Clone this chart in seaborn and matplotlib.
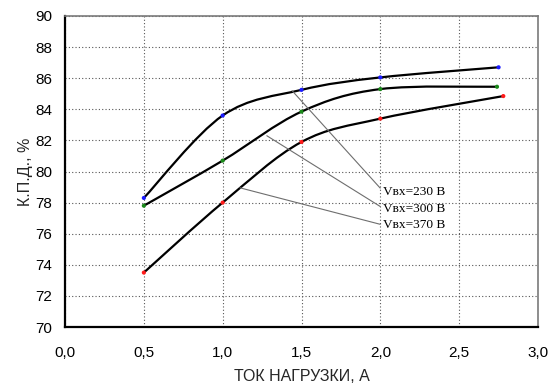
import numpy as np
import pandas as pd
import matplotlib
matplotlib.use("Agg")
import matplotlib.pyplot as plt
from matplotlib.path import Path
from matplotlib.patches import PathPatch
import seaborn as sns

# Efficiency vs load current for three input voltages
current_230 = [0.5, 1.0, 1.5, 2.0, 2.75]
eff_230 = [78.3, 83.6, 85.25, 86.05, 86.7]
current_300 = [0.5, 1.0, 1.5, 2.0, 2.74]
eff_300 = [77.8, 80.7, 83.85, 85.3, 85.45]
current_370 = [0.5, 1.0, 1.5, 2.0, 2.78]
eff_370 = [73.5, 78.0, 81.9, 83.4, 84.85]

series_labels = ["Vвх=230 В", "Vвх=300 В", "Vвх=370 В"]
marker_colors = ["#1a1aff", "#1a8a1a", "#ff1a1a"]

x_ticks = [0.0, 0.5, 1.0, 1.5, 2.0, 2.5, 3.0]
y_ticks = [70, 72, 74, 76, 78, 80, 82, 84, 86, 88, 90]

sns.set_style("white")
plt.rcParams["font.family"] = ["Liberation Sans", "DejaVu Sans"]

fig = plt.figure(figsize=(5.52, 3.90), dpi=100)
ax = fig.add_axes([0.1178, 0.1615, 0.8568, 0.7975])


def smooth_path(xs, ys):
    """Cubic Bezier path through the points (Excel-style smoothed line)."""
    pts = np.column_stack([xs, ys]).astype(float)
    n = len(pts)
    verts = [pts[0]]
    codes = [Path.MOVETO]
    for i in range(n - 1):
        p_prev = pts[i - 1] if i > 0 else pts[i]
        p0 = pts[i]
        p1 = pts[i + 1]
        p_next = pts[i + 2] if i + 2 < n else pts[i + 1]
        c1 = p0 + (p1 - p_prev) / 6.0
        c2 = p1 - (p_next - p0) / 6.0
        verts += [c1, c2, p1]
        codes += [Path.CURVE4] * 3
    return Path(verts, codes)


series = [(current_230, eff_230), (current_300, eff_300), (current_370, eff_370)]
frames = []
for (xs, ys), lab in zip(series, series_labels):
    ax.add_patch(PathPatch(smooth_path(xs, ys), fill=False, edgecolor="black",
                           linewidth=1.6, transform=ax.transData, zorder=3,
                           capstyle="round", joinstyle="round"))
    frames.append(pd.DataFrame({"current": xs, "eff": ys, "series": lab}))
data = pd.concat(frames, ignore_index=True)

sns.scatterplot(data=data, x="current", y="eff", hue="series",
                palette=dict(zip(series_labels, marker_colors)),
                s=9, linewidth=0, ax=ax, legend=False, zorder=4)

# Leader lines from curves to labels
label_pos = [(2.02, 78.7), (2.02, 77.62), (2.02, 76.55)]
anchor_pts = [(1.44, 85.2), (1.28, 82.3), (1.11, 78.95)]
for lab, (tx, ty), (ax_x, ax_y) in zip(series_labels, label_pos, anchor_pts):
    ax.annotate(lab, xy=(ax_x, ax_y), xytext=(tx, ty), textcoords="data",
                ha="left", va="center", fontsize=9.6,
                family=["Liberation Serif", "DejaVu Serif"], color="black",
                arrowprops=dict(arrowstyle="-", color="#6e6e6e", lw=0.8,
                                shrinkA=0, shrinkB=0, relpos=(0, 0.5)),
                zorder=5)

ax.set_xlim(0, 3.0)
ax.set_ylim(70, 90)
ax.set_xticks(x_ticks)
ax.set_yticks(y_ticks)
ax.set_xticklabels([f"{v:.1f}".replace(".", ",") for v in x_ticks])
ax.set_yticklabels([str(v) for v in y_ticks])
ax.tick_params(axis="both", length=0, labelsize=11, colors="black")
ax.tick_params(axis="x", pad=14)
ax.tick_params(axis="y", pad=9)

ax.grid(True, linestyle=(0, (1, 2)), color="#555555", linewidth=0.8)
ax.set_axisbelow(True)

for side in ["left", "bottom"]:
    ax.spines[side].set_color("black")
    ax.spines[side].set_linewidth(1.6)
for side in ["top", "right"]:
    ax.spines[side].set_visible(True)
    ax.spines[side].set_color("#7a7a7a")
    ax.spines[side].set_linewidth(1.2)

ax.set_xlabel("ТОК НАГРУЗКИ, А", fontsize=11.5, labelpad=6)
ax.set_ylabel("К.П.Д., %", fontsize=11.5, labelpad=2)

fig.savefig("out.png", dpi=100, facecolor="white")
